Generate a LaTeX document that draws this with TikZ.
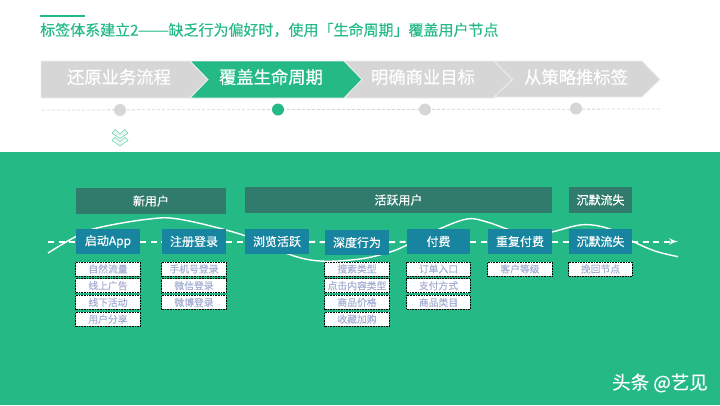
\documentclass[tikz,border=0pt]{standalone}
\usepackage{fontspec}
\setmainfont[FakeBold=0.3]{Noto Sans CJK SC}
\newfontfamily\dashfont{Liberation Sans}
\usetikzlibrary{arrows,positioning,shapes.geometric}
\definecolor{bandgreen}{HTML}{25B986}
\definecolor{stepgrey}{HTML}{D6D6D6}
\definecolor{headgreen}{HTML}{317B6C}
\definecolor{flowteal}{HTML}{1784A0}
\definecolor{tagtext}{HTML}{A6B0D4}
\begin{document}
\begin{tikzpicture}[
    x=1pt,
    y=-1pt,
    node distance=16.75pt,
    >=latex',
    stage/.style={
		draw=white!93!black,
		line width=0.9pt,
		fill=stepgrey
	},
	stagelabel/.style={
		text=white,
		font=\fontsize{17.3}{20}\selectfont
	},
	dot/.style={
		circle,
		minimum size=12pt,
		inner sep=0pt,
		fill=stepgrey
	},
	head/.style={
		rectangle,
		minimum height=26pt,
		inner sep=0pt,
		fill=headgreen,
		text=white,
		font=\fontsize{12}{14}\selectfont
	},
	flow/.style={
		rectangle,
		minimum width=64pt,
		minimum height=25pt,
		inner sep=0pt,
		fill=flowteal,
		text=white,
		font=\fontsize{12}{14}\selectfont
	},
	tag/.style={
		rectangle,
		minimum width=64.5pt,
		minimum height=14pt,
		inner sep=0pt,
		fill=white,
		draw=black,
		densely dotted,
		line width=0.6pt,
		text=tagtext,
		font=\fontsize{9.8}{11}\selectfont
	},
	dashline/.style={
		draw=white,
		line width=2pt,
		dash pattern=on 6pt off 4.5pt
	}
  ]
  \useasboundingbox (0,0) rectangle (720,405);

  % Title and the green band
  \draw [bandgreen, line width=2pt] (40,16) -- (85,16);
  \node [anchor=west, inner sep=0pt, text=bandgreen, font=\fontsize{15}{18}\selectfont] (title) at (40,30)
  {标签体系建立2{\dashfont ——}缺乏行为偏好时，使用「生命周期」覆盖用户节点};
  \fill [bandgreen] (0,152) rectangle (720,405);

  % The four steps
  \draw [stage] (41,61) -- (190,61) -- (208,79.5) -- (190,98) -- (41,98) -- cycle;
  \draw [stage] (344,61) -- (494,61) -- (512.5,79.5) -- (494,98) -- (344,98) -- (362,79.5) -- cycle;
  \draw [stage] (494,61) -- (642,61) -- (660,79.5) -- (642,97) -- (494,97) -- (512.5,79.5) -- cycle;
  \draw [stage, fill=bandgreen] (190,61) -- (344,61) -- (362,79.5) -- (344,98) -- (190,98) -- (208,79.5) -- cycle;
  \node [stagelabel] (stage1) at (119,77) {还原业务流程};
  \node [stagelabel] (stage2) at (271,77) {覆盖生命周期};
  \node [stagelabel] (stage3) at (423,77) {明确商业目标};
  \node [stagelabel] (stage4) at (576,77) {从策略推标签};

  % Dotted line under the steps
  \draw [stepgrey, line width=0.8pt, dash pattern=on 3pt off 2pt] (42,110) -- (660,109);
  \node [dot] (dot1) at (120,110) {};
  \node [dot, fill=bandgreen] (dot2) at (278,109.5) {};
  \node [dot] (dot3) at (425,109.5) {};
  \node [dot] (dot4) at (576,108.5) {};

  % Double chevron
  \foreach \yy in {128,135.5}
    \draw [bandgreen!70, line width=0.5pt, fill=bandgreen!10]
      (112,\yy+5) -- (115,\yy+1.5) -- (120,\yy+6) -- (125,\yy+1.5) -- (128,\yy+5) -- (120,\yy+10.5) -- cycle;

  % The white wave goes behind the blocks
  \draw [white, line width=1.4pt] plot [smooth, tension=0.6] coordinates {
    (48,253) (75,237) (97,228) (147,219.3) (180,219.3) (243,235) (288,254) (320,261)
    (360,259) (390,252) (407,245) (437,230) (467,219) (487,222) (507,229) (530,236)
    (552,232) (583,224.7) (610,229) (632,241) (655,251) (678,256.7)};

  % Header blocks
  \node [head, minimum width=150pt] (newuser) at (151,201) {新用户};
  \node [head, minimum width=307pt] (active) at (398.5,200) {活跃用户};
  \node [head, minimum width=63pt] (silenthead) at (600.5,200) {沉默流失};

  % Flow blocks
  \node [flow] (launch) at (108,241.5) {启动App};
  \node [flow] (register) at (194,241.5) {注册登录};
  \node [flow] (browse) at (277,241.5) {浏览活跃};
  \node [flow] (deep) at (357,242.5) {深度行为};
  \node [flow, minimum width=63pt] (pay) at (438.5,241.5) {付费};
  \node [flow] (repay) at (520,241.5) {重复付费};
  \node [flow, minimum width=63pt] (silent) at (600.5,241.5) {沉默流失};

  % Tags under the flow blocks
  \node [tag, below of=launch, yshift=-10.7pt] (launch1) {自然流量};
  \node [tag, below of=launch1] (launch2) {线上广告};
  \node [tag, below of=launch2] (launch3) {线下活动};
  \node [tag, below of=launch3] (launch4) {用户分享};

  \node [tag, below of=register, yshift=-10.7pt] (register1) {手机号登录};
  \node [tag, below of=register1] (register2) {微信登录};
  \node [tag, below of=register2] (register3) {微博登录};

  \node [tag, below of=deep, yshift=-9.7pt] (deep1) {搜索类型};
  \node [tag, below of=deep1] (deep2) {点击内容类型};
  \node [tag, below of=deep2] (deep3) {商品价格};
  \node [tag, below of=deep3] (deep4) {收藏加购};

  \node [tag, minimum width=63.5pt, below of=pay, yshift=-10.7pt] (pay1) {订单入口};
  \node [tag, minimum width=63.5pt, below of=pay1] (pay2) {支付方式};
  \node [tag, minimum width=63.5pt, below of=pay2] (pay3) {商品类目};

  \node [tag, below of=repay, yshift=-10.7pt] (repay1) {客户等级};
  \node [tag, minimum width=63.5pt, below of=silent, yshift=-10.7pt] (silent1) {挽回节点};

  % Dashed flow
  \coordinate (flowstart) at (48,241.5);
  \coordinate (flowend) at (678,241.5);
  \draw [dashline] (flowstart) -- (launch);
  \draw [dashline] (launch) -- (register);
  \draw [dashline] (register) -- (browse);
  \draw [dashline] (browse) -- (deep);
  \draw [dashline] (deep) -- (pay);
  \draw [dashline] (pay) -- (repay);
  \draw [dashline] (repay) -- (silent);
  \draw [dashline, ->] (silent) -- (flowend);

  \node [text=white, font=\fontsize{18.5}{22}\selectfont] (mark) at (660,383) {头条 @艺见};
\end{tikzpicture}
\end{document}
